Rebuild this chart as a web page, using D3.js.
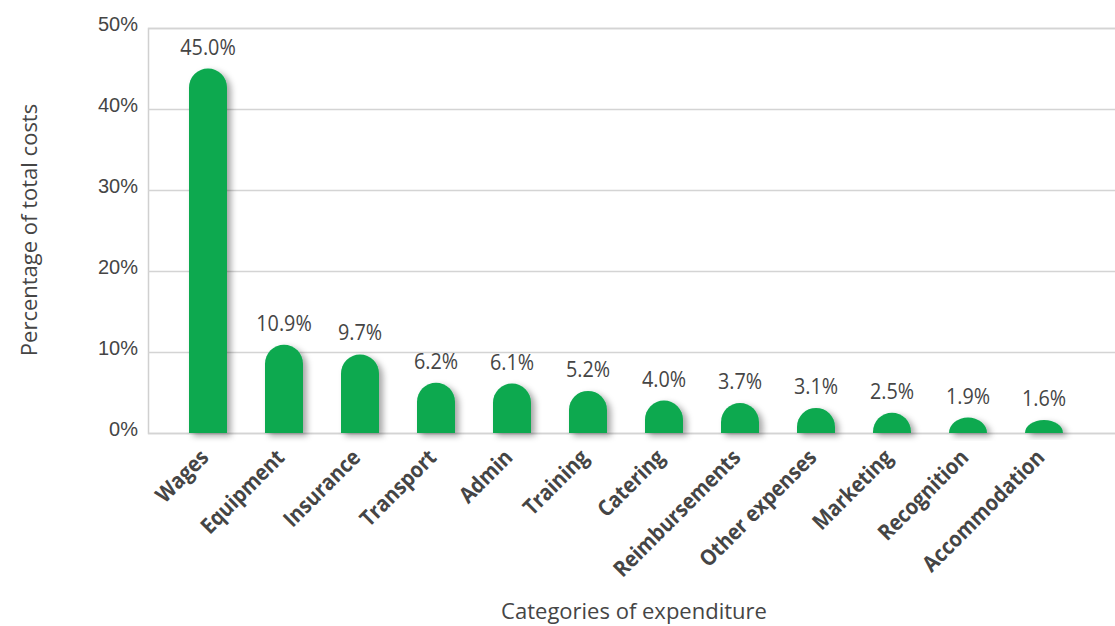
<!DOCTYPE html>
<html>
<head>
<meta charset="utf-8">
<script src="https://cdn.jsdelivr.net/npm/d3@7"></script>
<style>
  html, body { margin: 0; padding: 0; background: #fff; }
  svg { display: block; font-family: "Open Sans", "Noto Sans", sans-serif; }
</style>
</head>
<body>
<svg id="chart" width="1115" height="626"></svg>
<script>
// Share of total costs by category of expenditure
const categories = ["Wages", "Equipment", "Insurance", "Transport", "Admin", "Training",
  "Catering", "Reimbursements", "Other expenses", "Marketing", "Recognition", "Accommodation"];
const shares = [45.0, 10.9, 9.7, 6.2, 6.1, 5.2, 4.0, 3.7, 3.1, 2.5, 1.9, 1.6];
const yTicks = [0, 10, 20, 30, 40, 50];

const svg = d3.select("#chart");
const textColor = "#454545";
const barColor = "#0aa94f";

const x = d3.scaleBand().domain(categories).range([170, 1082])
  .paddingInner(0.5).paddingOuter(0.25);
const y = d3.scaleLinear().domain([0, 50]).range([433, 28]);

// soft shadow behind bars
const defs = svg.append("defs");
const f = defs.append("filter").attr("id", "shadow")
  .attr("x", "-50%").attr("y", "-50%").attr("width", "200%").attr("height", "200%");
f.append("feDropShadow").attr("dx", 4).attr("dy", 3).attr("stdDeviation", 3)
  .attr("flood-color", "#000").attr("flood-opacity", 0.35);

// gridlines + y axis
const yAxis = d3.axisLeft(y).tickValues(yTicks).tickFormat(d => d + "%")
  .tickSize(-(1115 - 148)).tickPadding(10);
const gy = svg.append("g").attr("transform", "translate(148,0)").call(yAxis);
gy.select(".domain").attr("stroke", "#d0d0d0").attr("stroke-width", 1.5);
gy.selectAll(".tick line").attr("stroke", "#d4d4d4").attr("stroke-width", 1.5);
gy.selectAll(".tick text").attr("fill", textColor).attr("font-size", 20)
  .attr("dy", "0.1em");

// bars with rounded tops
function barPath(d) {
  const x0 = x(d.cat), w = x.bandwidth();
  const yTop = y(d.v), yBase = y(0);
  const h = yBase - yTop;
  const rx = w / 2, ry = Math.min(w / 2, h);
  return `M${x0},${yBase} L${x0},${yTop + ry} A${rx},${ry} 0 0 1 ${x0 + w},${yTop + ry} L${x0 + w},${yBase} Z`;
}
const data = categories.map((c, i) => ({ cat: c, v: shares[i] }));

svg.append("g").selectAll("path").data(data).join("path")
  .attr("d", barPath).attr("fill", barColor).attr("filter", "url(#shadow)");

// value labels (slightly condensed)
svg.append("g").selectAll("text").data(data).join("text")
  .attr("transform", d => `translate(${x(d.cat) + x.bandwidth() / 2},${y(d.v) - 14}) scale(0.9,1)`)
  .attr("text-anchor", "middle").attr("fill", textColor).attr("font-size", 22)
  .text(d => d.v.toFixed(1) + "%");

// category labels, rotated
svg.append("g").selectAll("text").data(data).join("text")
  .attr("transform", d => `translate(${x(d.cat) + x.bandwidth() / 2 - 9},${448}) rotate(-45) scale(0.9,1)`)
  .attr("text-anchor", "end").attr("fill", textColor).attr("font-size", 22)
  .attr("font-weight", 700).attr("dy", "0.7em")
  .text(d => d.cat);

// axis titles
svg.append("text")
  .attr("transform", "translate(37,230) rotate(-90)")
  .attr("text-anchor", "middle").attr("fill", textColor).attr("font-size", 22)
  .text("Percentage of total costs");
svg.append("text")
  .attr("x", 634).attr("y", 619)
  .attr("text-anchor", "middle").attr("fill", textColor).attr("font-size", 22)
  .text("Categories of expenditure");
</script>
</body>
</html>
